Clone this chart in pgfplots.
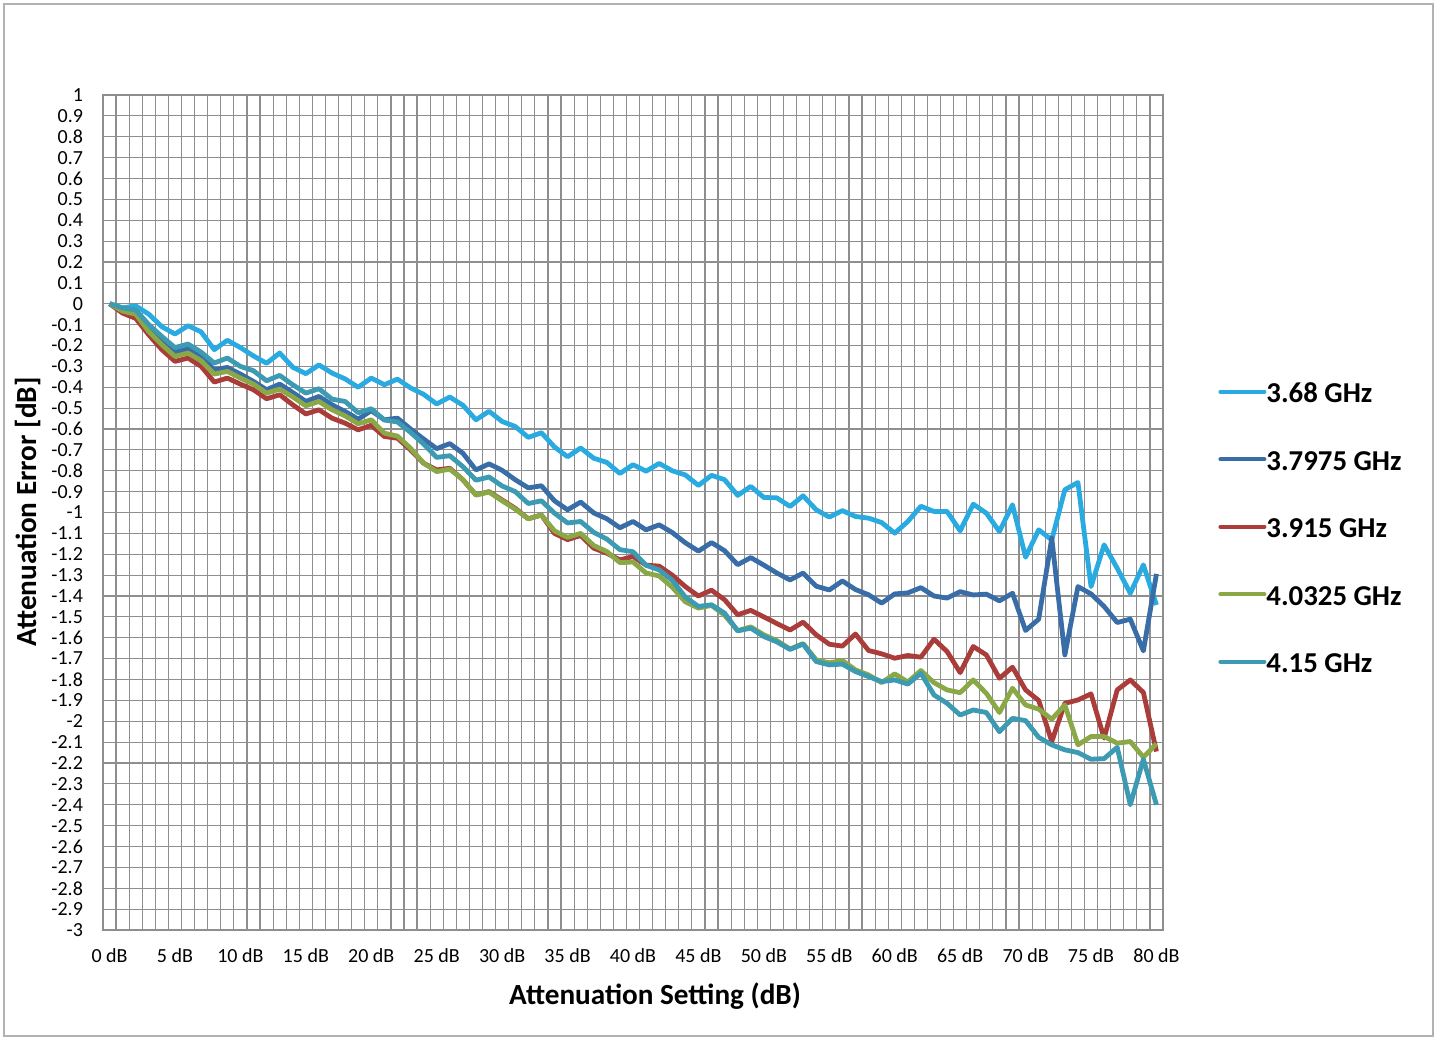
\documentclass[border=0pt]{standalone}
\usepackage{pgfplots}
\pgfplotsset{compat=1.18}
\usepackage{pgfplotstable}
\usepackage{fontspec}
\setmainfont{Carlito}

\definecolor{cA}{HTML}{29ABE2}
\definecolor{cB}{HTML}{386DA8}
\definecolor{cC}{HTML}{AA3D3A}
\definecolor{cD}{HTML}{8AA846}
\definecolor{cE}{HTML}{3C9AB2}
\definecolor{gridgray}{HTML}{8E8E8E}

\pgfplotstableread{
x a b c d e
0 0 0 0 0 0
1 -0.02 -0.03 -0.045 -0.035 -0.02
2 -0.01 -0.037 -0.07 -0.05 -0.03
3 -0.05 -0.117 -0.149 -0.133 -0.1
4 -0.11 -0.177 -0.22 -0.196 -0.157
5 -0.145 -0.232 -0.276 -0.252 -0.21
6 -0.105 -0.216 -0.26 -0.236 -0.193
7 -0.135 -0.252 -0.3 -0.273 -0.232
8 -0.22 -0.316 -0.375 -0.337 -0.284
9 -0.175 -0.305 -0.356 -0.324 -0.26
10 -0.21 -0.337 -0.385 -0.356 -0.3
11 -0.25 -0.372 -0.412 -0.385 -0.321
12 -0.285 -0.412 -0.455 -0.428 -0.369
13 -0.236 -0.385 -0.436 -0.409 -0.343
14 -0.304 -0.425 -0.484 -0.446 -0.388
15 -0.335 -0.468 -0.528 -0.489 -0.428
16 -0.293 -0.444 -0.508 -0.468 -0.407
17 -0.332 -0.484 -0.548 -0.508 -0.457
18 -0.36 -0.516 -0.572 -0.537 -0.468
19 -0.4 -0.553 -0.604 -0.575 -0.522
20 -0.356 -0.512 -0.582 -0.556 -0.503
21 -0.388 -0.556 -0.636 -0.62 -0.557
22 -0.361 -0.548 -0.644 -0.634 -0.566
23 -0.403 -0.6 -0.7 -0.692 -0.616
24 -0.434 -0.648 -0.764 -0.764 -0.672
25 -0.48 -0.694 -0.796 -0.804 -0.736
26 -0.447 -0.67 -0.788 -0.792 -0.728
27 -0.486 -0.716 -0.843 -0.843 -0.78
28 -0.556 -0.796 -0.916 -0.916 -0.845
29 -0.515 -0.767 -0.9 -0.902 -0.83
30 -0.564 -0.798 -0.94 -0.944 -0.873
31 -0.588 -0.843 -0.98 -0.984 -0.9
32 -0.64 -0.882 -1.03 -1.03 -0.957
33 -0.618 -0.872 -1.012 -1.012 -0.944
34 -0.686 -0.944 -1.1 -1.088 -1.003
35 -0.733 -0.987 -1.13 -1.119 -1.05
36 -0.691 -0.95 -1.11 -1.1 -1.043
37 -0.74 -1.002 -1.171 -1.158 -1.095
38 -0.76 -1.03 -1.195 -1.187 -1.127
39 -0.813 -1.073 -1.227 -1.24 -1.178
40 -0.771 -1.043 -1.211 -1.237 -1.188
41 -0.802 -1.083 -1.252 -1.29 -1.253
42 -0.765 -1.059 -1.257 -1.304 -1.275
43 -0.8 -1.096 -1.3 -1.358 -1.325
44 -0.82 -1.145 -1.355 -1.428 -1.405
45 -0.87 -1.185 -1.4 -1.458 -1.45
46 -0.822 -1.144 -1.372 -1.445 -1.442
47 -0.843 -1.183 -1.418 -1.492 -1.482
48 -0.918 -1.25 -1.49 -1.566 -1.567
49 -0.875 -1.216 -1.469 -1.548 -1.554
50 -0.928 -1.252 -1.5 -1.586 -1.594
51 -0.93 -1.29 -1.532 -1.614 -1.62
52 -0.971 -1.323 -1.563 -1.654 -1.656
53 -0.92 -1.29 -1.525 -1.628 -1.63
54 -0.987 -1.353 -1.586 -1.706 -1.714
55 -1.022 -1.371 -1.631 -1.72 -1.73
56 -0.991 -1.328 -1.64 -1.709 -1.726
57 -1.019 -1.369 -1.582 -1.754 -1.762
58 -1.027 -1.394 -1.661 -1.778 -1.786
59 -1.048 -1.434 -1.677 -1.815 -1.81
60 -1.099 -1.39 -1.698 -1.773 -1.802
61 -1.043 -1.385 -1.685 -1.812 -1.822
62 -0.97 -1.36 -1.693 -1.757 -1.77
63 -0.995 -1.4 -1.607 -1.815 -1.874
64 -0.995 -1.41 -1.666 -1.85 -1.914
65 -1.088 -1.379 -1.767 -1.863 -1.97
66 -0.96 -1.395 -1.642 -1.802 -1.946
67 -1.003 -1.391 -1.682 -1.866 -1.958
68 -1.091 -1.423 -1.794 -1.958 -2.05
69 -0.963 -1.387 -1.741 -1.842 -1.986
70 -1.214 -1.565 -1.85 -1.922 -1.997
71 -1.083 -1.511 -1.9 -1.942 -2.077
72 -1.131 -1.123 -2.097 -1.99 -2.113
73 -0.891 -1.682 -1.914 -1.922 -2.137
74 -0.856 -1.355 -1.898 -2.113 -2.15
75 -1.355 -1.39 -1.869 -2.073 -2.182
76 -1.155 -1.45 -2.081 -2.073 -2.179
77 -1.267 -1.527 -1.85 -2.105 -2.125
78 -1.387 -1.511 -1.802 -2.097 -2.4
79 -1.251 -1.663 -1.862 -2.172 -2.182
80 -1.443 -1.294 -2.145 -2.108 -2.4
}\data

\begin{document}
\begin{tikzpicture}
\path[use as bounding box] (0pt,0pt) rectangle (719pt,-519pt);
\draw[gray!60, line width=0.6pt] (2pt,-2pt) rectangle (716.5pt,-518pt);
\begin{axis}[
  at={(51.5pt,-47.5pt)}, anchor=north west,
  scale only axis, width=530pt, height=417.5pt,
  xmin=-0.5, xmax=80.5, ymin=-3, ymax=1,
  xtick={0,5,...,80},
  xticklabels={0 dB,5 dB,10 dB,15 dB,20 dB,25 dB,30 dB,35 dB,40 dB,45 dB,50 dB,55 dB,60 dB,65 dB,70 dB,75 dB,80 dB},
  minor xtick={-0.5,0.5,...,80.5},
  xminorgrids=true, xmajorgrids=false,
  ytick={-3,-2.9,-2.8,-2.7,-2.6,-2.5,-2.4,-2.3,-2.2,-2.1,-2,-1.9,-1.8,-1.7,-1.6,-1.5,-1.4,-1.3,-1.2,-1.1,-1,-0.9,-0.8,-0.7,-0.6,-0.5,-0.4,-0.3,-0.2,-0.1,0,0.1,0.2,0.3,0.4,0.5,0.6,0.7,0.8,0.9,1},
  yticklabels={-3,-2.9,-2.8,-2.7,-2.6,-2.5,-2.4,-2.3,-2.2,-2.1,-2,-1.9,-1.8,-1.7,-1.6,-1.5,-1.4,-1.3,-1.2,-1.1,-1,-0.9,-0.8,-0.7,-0.6,-0.5,-0.4,-0.3,-0.2,-0.1,0,0.1,0.2,0.3,0.4,0.5,0.6,0.7,0.8,0.9,1},
  ymajorgrids=true,
  major tick length=0pt, minor tick length=0pt,
  grid style={line width=0.6pt, color=gridgray},
  minor grid style={line width=0.6pt, color=gridgray},
  axis line style={line width=0.6pt, color=gridgray},
  tick label style={font=\fontsize{10}{12}\selectfont, text=black},
  yticklabel style={xshift=-6.5pt},
  xticklabel style={yshift=-6pt},
  xlabel={\textbf{Attenuation Setting (dB)}},
  ylabel={\textbf{Attenuation Error [dB]}},
  label style={font=\fontsize{14.6}{17}\selectfont},
  xlabel style={at={(axis description cs:0.5208,-0.0795)}, anchor=center},
  ylabel style={at={(axis description cs:-0.0708,0.5006)}, anchor=center, rotate=0},
  legend style={at={(1,1)}, anchor=north west, xshift=27.5pt, yshift=-142.7pt,
    draw=none, fill=none, inner sep=0pt,
    font=\bfseries\fontsize{14.4}{17}\selectfont,
    nodes={inner sep=0pt, text height=11pt, text depth=0pt},
    row sep=22.75pt,
    /tikz/every even column/.append style={column sep=0.5pt}},
  legend cell align=left,
  legend image code/.code={\draw[#1, line width=2pt, line cap=round] (0pt,0pt) -- (22pt,0pt);},
  every axis plot/.append style={line width=2.4pt, line join=round, no markers},
]
\addplot[cA] table[x=x, y=a] {\data};
\addplot[cB] table[x=x, y=b] {\data};
\addplot[cC] table[x=x, y=c] {\data};
\addplot[cD] table[x=x, y=d] {\data};
\addplot[cE] table[x=x, y=e] {\data};
\legend{3.68 GHz,3.7975 GHz,3.915 GHz,4.0325 GHz,4.15 GHz}
\end{axis}
\end{tikzpicture}
\end{document}
